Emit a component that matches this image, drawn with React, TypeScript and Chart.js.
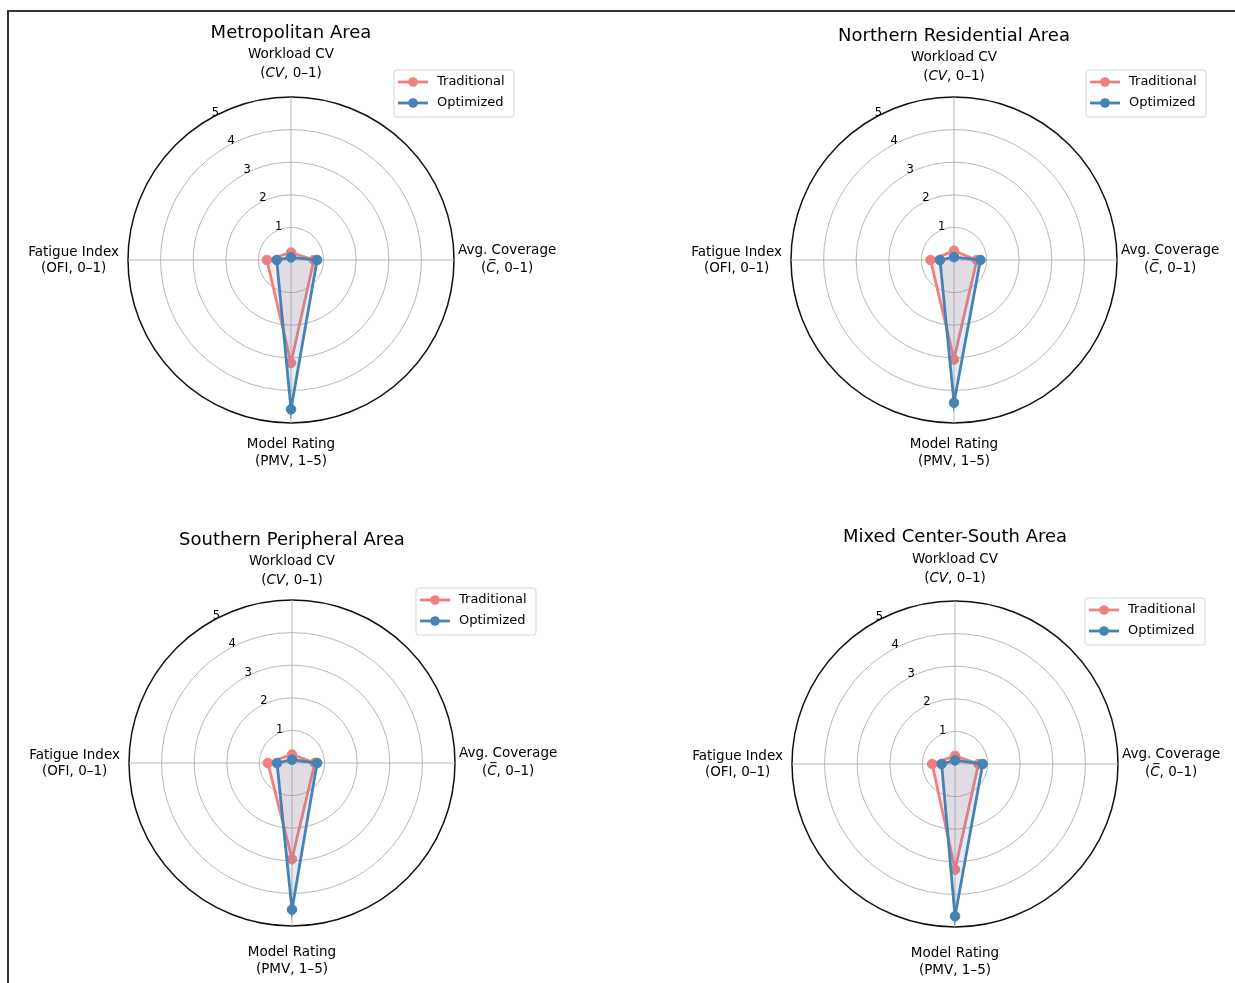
import React, { useEffect, useRef } from "react";
import { Chart, registerables } from "chart.js";

Chart.register(...registerables);

// ---------------- data ----------------
const axisNames = ["Workload CV", "Avg. Coverage", "Model Rating", "Fatigue Index"];
const axisSymbols = ["CV", "C", "PMV", "OFI"];
const axisSymbolItalic = [true, true, false, false];
const axisSymbolBar = [false, true, false, false];
const axisRanges = ["0–1", "0–1", "1–5", "0–1"];

const panelTitles = [
  "Metropolitan Area",
  "Northern Residential Area",
  "Southern Peripheral Area",
  "Mixed Center-South Area",
];
const seriesNames = ["Traditional", "Optimized"];

const traditionalMetropolitan = [0.23, 0.7, 3.16, 0.74];
const optimizedMetropolitan = [0.08, 0.8, 4.58, 0.44];
const traditionalNorthern = [0.28, 0.7, 3.05, 0.72];
const optimizedNorthern = [0.09, 0.81, 4.38, 0.43];
const traditionalSouthern = [0.26, 0.7, 2.95, 0.74];
const optimizedSouthern = [0.1, 0.77, 4.5, 0.46];
const traditionalMixed = [0.25, 0.72, 3.24, 0.7];
const optimizedMixed = [0.11, 0.85, 4.67, 0.41];

const radialTickValues = [1, 2, 3, 4, 5];
const radialMax = 5;

const traditionalByPanel = [traditionalMetropolitan, traditionalNorthern, traditionalSouthern, traditionalMixed];
const optimizedByPanel = [optimizedMetropolitan, optimizedNorthern, optimizedSouthern, optimizedMixed];

// ---------------- layout / style ----------------
const panelLayout = [
  { cx: 291, cy: 260, legendLeft: 394, legendTop: 70, titleDy: -227, topShift: 0, bottomShift: 0 },
  { cx: 954, cy: 260, legendLeft: 1086, legendTop: 70, titleDy: -224, topShift: 3, bottomShift: 0 },
  { cx: 292, cy: 763, legendLeft: 416, legendTop: 588, titleDy: -223, topShift: 4, bottomShift: 5 },
  { cx: 955, cy: 764, legendLeft: 1085, legendTop: 598, titleDy: -227, topShift: 1, bottomShift: 5 },
];
const RADIUS = 163;
const CW = 600;
const CH = 500;
const FONT = '"DejaVu Sans", sans-serif';
const PINK = "#F08080";
const BLUE = "#4682B4";
const seriesColors = [PINK, BLUE];
const seriesFills = ["rgba(240,128,128,0.15)", "rgba(70,130,180,0.15)"];

function unitWidth(ctx: CanvasRenderingContext2D, i: number, size: number) {
  ctx.font = `${size}px ${FONT}`;
  let w = ctx.measureText("(").width + ctx.measureText(", " + axisRanges[i] + ")").width;
  ctx.font = `${axisSymbolItalic[i] ? "italic " : ""}${size}px ${FONT}`;
  w += ctx.measureText(axisSymbols[i]).width;
  return w;
}

function drawUnit(ctx: CanvasRenderingContext2D, i: number, centerX: number, y: number, size: number) {
  const total = unitWidth(ctx, i, size);
  let x = centerX - total / 2;
  ctx.textAlign = "left";
  ctx.textBaseline = "middle";
  ctx.font = `${size}px ${FONT}`;
  ctx.fillText("(", x, y);
  x += ctx.measureText("(").width;
  ctx.font = `${axisSymbolItalic[i] ? "italic " : ""}${size}px ${FONT}`;
  const sw = ctx.measureText(axisSymbols[i]).width;
  ctx.fillText(axisSymbols[i], x, y);
  if (axisSymbolBar[i]) {
    ctx.save();
    ctx.strokeStyle = "#000";
    ctx.lineWidth = 1;
    ctx.beginPath();
    ctx.moveTo(x + 3, y - size * 0.62);
    ctx.lineTo(x + sw, y - size * 0.62);
    ctx.stroke();
    ctx.restore();
  }
  x += sw;
  ctx.font = `${size}px ${FONT}`;
  ctx.fillText(", " + axisRanges[i] + ")", x, y);
}

function makeDecor(panelIndex: number) {
  return {
    id: "decor" + panelIndex,
    afterDraw(chart: any) {
      const ctx: CanvasRenderingContext2D = chart.ctx;
      const s = chart.scales.r;
      const cx = s.xCenter;
      const cy = s.yCenter;
      const R = s.drawingArea;
      const lay = panelLayout[panelIndex];
      const offX = lay.cx - CW / 2;
      const offY = lay.cy - CH / 2;
      ctx.save();
      ctx.fillStyle = "#000";

      // title
      ctx.font = `18px ${FONT}`;
      ctx.textAlign = "center";
      ctx.textBaseline = "middle";
      ctx.fillText(panelTitles[panelIndex], cx, cy + lay.titleDy);

      const LS = 13.5;
      // top label
      ctx.font = `${LS}px ${FONT}`;
      ctx.textAlign = "center";
      ctx.fillText(axisNames[0], cx, cy - R - 43 + lay.topShift);
      drawUnit(ctx, 0, cx, cy - R - 24 + lay.topShift, LS);

      // right label
      ctx.font = `${LS}px ${FONT}`;
      let w1 = ctx.measureText(axisNames[1]).width;
      let w2 = unitWidth(ctx, 1, LS);
      let W = Math.max(w1, w2);
      let bc = cx + R + 4 + W / 2;
      ctx.font = `${LS}px ${FONT}`;
      ctx.textAlign = "center";
      ctx.fillText(axisNames[1], bc, cy - 10);
      drawUnit(ctx, 1, bc, cy + 8, LS);

      // bottom label
      ctx.font = `${LS}px ${FONT}`;
      ctx.textAlign = "center";
      ctx.fillText(axisNames[2], cx, cy + R + 21 + lay.bottomShift);
      drawUnit(ctx, 2, cx, cy + R + 38 + lay.bottomShift, LS);

      // left label
      ctx.font = `${LS}px ${FONT}`;
      w1 = ctx.measureText(axisNames[3]).width;
      w2 = unitWidth(ctx, 3, LS);
      W = Math.max(w1, w2);
      bc = cx - R - 9 - W / 2;
      ctx.font = `${LS}px ${FONT}`;
      ctx.textAlign = "center";
      ctx.fillText(axisNames[3], bc, cy - 8);
      drawUnit(ctx, 3, bc, cy + 8, LS);

      // radial tick labels
      const th = (29 * Math.PI) / 180;
      ctx.font = `11.5px ${FONT}`;
      ctx.textAlign = "center";
      ctx.textBaseline = "middle";
      radialTickValues.forEach((v) => {
        const d = s.getDistanceFromCenterForValue(v);
        ctx.fillText(String(v), cx - d * Math.sin(th) + 3.5, cy - d * Math.cos(th) - 4.5);
      });

      // legend
      const lx = lay.legendLeft - offX;
      const ly = lay.legendTop - offY;
      const lw = 120;
      const lh = 47;
      ctx.beginPath();
      const r = 3;
      ctx.moveTo(lx + r, ly);
      ctx.lineTo(lx + lw - r, ly);
      ctx.arcTo(lx + lw, ly, lx + lw, ly + r, r);
      ctx.lineTo(lx + lw, ly + lh - r);
      ctx.arcTo(lx + lw, ly + lh, lx + lw - r, ly + lh, r);
      ctx.lineTo(lx + r, ly + lh);
      ctx.arcTo(lx, ly + lh, lx, ly + lh - r, r);
      ctx.lineTo(lx, ly + r);
      ctx.arcTo(lx, ly, lx + r, ly, r);
      ctx.closePath();
      ctx.fillStyle = "rgba(255,255,255,0.8)";
      ctx.fill();
      ctx.strokeStyle = "#d5d5d5";
      ctx.lineWidth = 1;
      ctx.stroke();
      seriesNames.forEach((name, k) => {
        const yy = ly + 12 + k * 21;
        ctx.strokeStyle = seriesColors[k];
        ctx.lineWidth = 2.8;
        ctx.beginPath();
        ctx.moveTo(lx + 4, yy);
        ctx.lineTo(lx + 34, yy);
        ctx.stroke();
        ctx.fillStyle = seriesColors[k];
        ctx.beginPath();
        ctx.arc(lx + 19, yy, 4.8, 0, Math.PI * 2);
        ctx.fill();
        ctx.fillStyle = "#000";
        ctx.font = `13px ${FONT}`;
        ctx.textAlign = "left";
        ctx.textBaseline = "middle";
        ctx.fillText(name, lx + 43, yy);
      });
      ctx.restore();
    },
  };
}

function RadarPanel({ index }: { index: number }) {
  const ref = useRef<HTMLCanvasElement | null>(null);
  useEffect(() => {
    if (!ref.current) return;
    const pad = {
      left: CW / 2 - RADIUS,
      right: CW / 2 - RADIUS,
      top: CH / 2 - RADIUS,
      bottom: CH / 2 - RADIUS,
    };
    const datasets = [traditionalByPanel[index], optimizedByPanel[index]].map((vals, k) => ({
      label: seriesNames[k],
      data: vals,
      borderColor: seriesColors[k],
      backgroundColor: seriesFills[k],
      pointBackgroundColor: seriesColors[k],
      pointBorderColor: seriesColors[k],
      pointRadius: 4.8,
      pointBorderWidth: 1,
      borderWidth: 2.8,
      fill: true,
      order: k === 0 ? 1 : 0,
    }));
    const chart = new Chart(ref.current, {
      type: "radar",
      data: { labels: axisNames, datasets },
      options: {
        responsive: false,
        animation: false,
        devicePixelRatio: 1,
        layout: { padding: pad },
        elements: { line: { tension: 0 } },
        plugins: {
          legend: { display: false },
          tooltip: { enabled: false },
          title: { display: false },
        },
        scales: {
          r: {
            min: 0,
            max: radialMax,
            ticks: { display: false, stepSize: 1 },
            pointLabels: { display: false },
            grid: {
              circular: true,
              color: (c: any) => (c.tick && c.tick.value === radialMax ? "#111" : "#b0b0b0"),
              lineWidth: (c: any) => (c.tick && c.tick.value === radialMax ? 1.5 : 0.9),
            },
            angleLines: { color: "#b0b0b0", lineWidth: 0.9 },
          },
        },
      } as any,
      plugins: [makeDecor(index)],
    });
    return () => chart.destroy();
  }, [index]);
  const lay = panelLayout[index];
  return (
    <canvas
      ref={ref}
      width={CW}
      height={CH}
      style={{ position: "absolute", left: lay.cx - CW / 2, top: lay.cy - CH / 2, width: CW, height: CH, display: "block" }}
    />
  );
}

export default function App() {
  return (
    <div
      style={{
        position: "fixed",
        left: 0,
        top: 0,
        width: 1235,
        height: 983,
        background: "#fff",
        overflow: "hidden",
      }}
    >
      {[0, 1, 2, 3].map((i) => (
        <RadarPanel key={i} index={i} />
      ))}
      <div style={{ position: "absolute", left: 7, top: 10, width: 1228, height: 2, background: "#333" }} />
      <div style={{ position: "absolute", left: 7, top: 10, width: 2, height: 973, background: "#333" }} />
    </div>
  );
}
